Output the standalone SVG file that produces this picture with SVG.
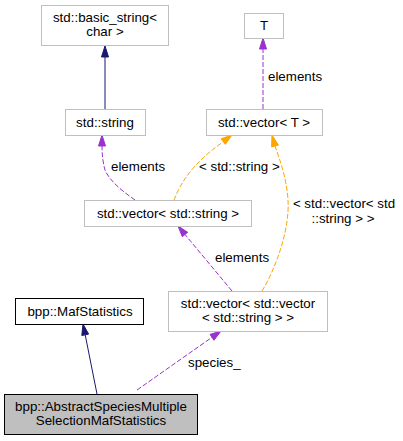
<svg xmlns="http://www.w3.org/2000/svg" width="403" height="441" viewBox="0 0 403 441">
<style>
text{font-family:"Liberation Sans",Arial,sans-serif;font-size:13.33px;fill:#000}
.c{text-anchor:middle}
.box{fill:#fff;stroke:#bfbfbf;stroke-width:1}
.bk{fill:#fff;stroke:#000;stroke-width:1}
.nv{stroke:#191970;fill:none}
.pu{stroke:#9a32cd;fill:none;stroke-dasharray:5,2}
.or{stroke:#ffa500;fill:none;stroke-dasharray:5,2}
.nvh{fill:#191970;stroke:#191970}
.puh{fill:#9a32cd;stroke:#9a32cd}
.orh{fill:#ffa500;stroke:#ffa500}
</style>
<rect width="403" height="441" fill="#fff"/>
<g id="connectors">
<path class="nv" d="M105,109 L105,57"/>
<polygon class="nvh" points="105,46 108.5,57 101.5,57"/>
<path class="pu" d="M263,109 L263,49"/>
<polygon class="puh" points="263,38 266.5,49 259.5,49"/>
<text x="268" y="81">elements</text>
<path class="pu" d="M135,200 C125,193 110,182 105,170 C103,163 102,155 102,146"/>
<polygon class="puh" points="102,135 105.5,146 98.5,146"/>
<text x="111" y="171">elements</text>
<path class="or" d="M174,200 C180,185 190,165 223,142"/>
<polygon class="orh" points="232,135 225.3,144.4 221.1,138.8"/>
<text x="199" y="171">&lt; std::string &gt;</text>
<path class="or" d="M262,291 C275,270 290,230 288,200 C287,180 280,160 275,146"/>
<polygon class="orh" points="272,135 278.4,145.1 271.6,146.9"/>
<text class="c" x="344" y="208">&lt; std::vector&lt; std</text>
<text class="c" x="343" y="223">::string &gt; &gt;</text>
<path class="pu" d="M232,291 L185,234.5"/>
<polygon class="puh" points="178,226 187.7,232.3 182.3,236.7"/>
<text x="215" y="262">elements</text>
<path class="nv" d="M97,394 L85.2,334.8"/>
<polygon class="nvh" points="83,324 88.6,334.1 81.8,335.5"/>
<path class="pu" d="M137,390 L212,337.3"/>
<polygon class="puh" points="221,331 214,340.2 210,334.4"/>
<text x="188" y="367">species_</text>
</g>
<g id="basic_string">
<rect class="box" x="41.5" y="5.5" width="127" height="40"/>
<text class="c" x="105" y="22">std::basic_string&lt;</text>
<text class="c" x="105" y="36">char &gt;</text>
</g>
<g id="string">
<rect class="box" x="65.5" y="109.5" width="80" height="26"/>
<text class="c" x="105" y="127">std::string</text>
</g>
<g id="T">
<rect class="box" x="244.5" y="13.5" width="39" height="25"/>
<text class="c" x="264" y="30">T</text>
</g>
<g id="vector_T">
<rect class="box" x="206.5" y="109.5" width="116" height="26"/>
<text class="c" x="264" y="127">std::vector&lt; T &gt;</text>
</g>
<g id="vector_string">
<rect class="box" x="84.5" y="200.5" width="167" height="26"/>
<text class="c" x="168" y="218">std::vector&lt; std::string &gt;</text>
</g>
<g id="vector_vector">
<rect class="box" x="168.5" y="291.5" width="159" height="40"/>
<text class="c" x="248" y="308">std::vector&lt; std::vector</text>
<text class="c" x="248" y="322">&lt; std::string &gt; &gt;</text>
</g>
<g id="MafStatistics">
<rect class="bk" x="15.5" y="298.5" width="128" height="26"/>
<text class="c" x="80" y="316">bpp::MafStatistics</text>
</g>
<g id="Abstract">
<rect x="4.5" y="394.5" width="193" height="40" fill="#bfbfbf" stroke="#000"/>
<text class="c" x="101" y="411">bpp::AbstractSpeciesMultiple</text>
<text class="c" x="101" y="425">SelectionMafStatistics</text>
</g>
</svg>
